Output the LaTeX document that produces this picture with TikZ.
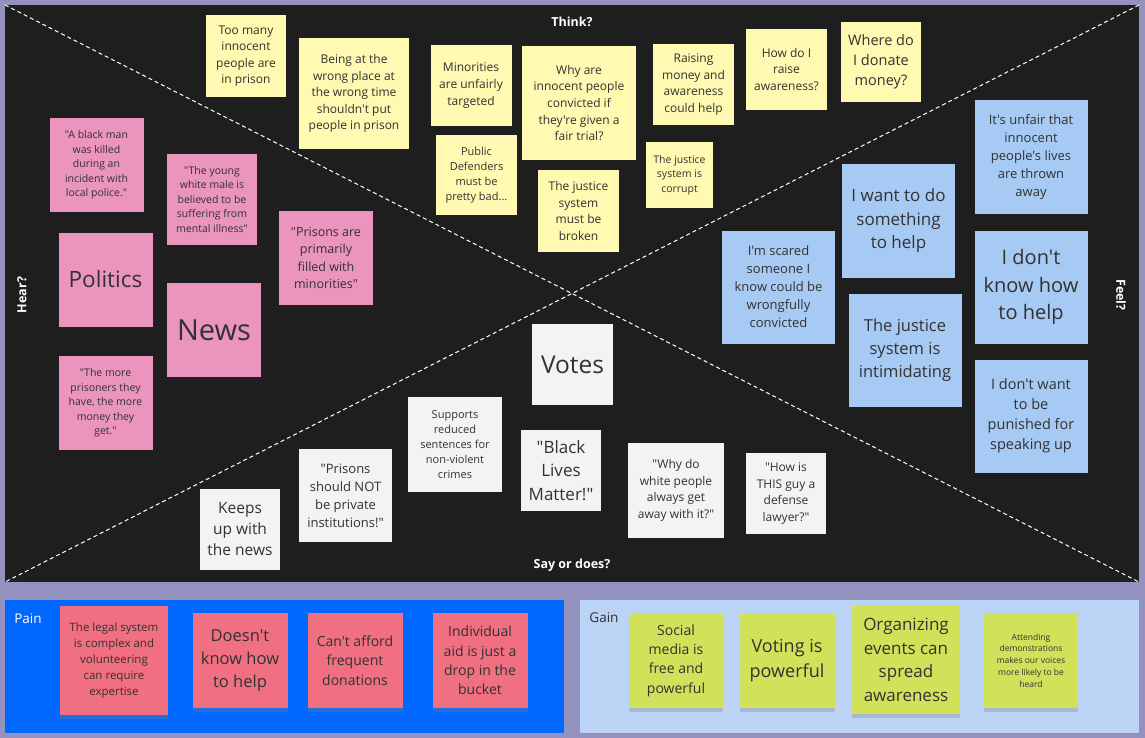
\documentclass[tikz,border=0pt]{standalone}
\usepackage{fontspec}
\setmainfont{Open Sans}
% no TeX mapping here, so quotes and apostrophes stay straight
\newfontfamily\boardfont{Open Sans}
\usetikzlibrary{shadows}

\definecolor{frame}{RGB}{147,146,190}
\definecolor{board}{RGB}{30,30,30}
\definecolor{painbg}{RGB}{0,104,255}
\definecolor{gainbg}{RGB}{187,211,245}
\definecolor{yellowpad}{RGB}{255,249,177}
\definecolor{pinkpad}{RGB}{234,148,190}
\definecolor{bluepad}{RGB}{166,202,243}
\definecolor{whitepad}{RGB}{243,243,243}
\definecolor{redpad}{RGB}{240,111,128}
\definecolor{limepad}{RGB}{207,226,90}
\definecolor{ink}{RGB}{50,50,50}

\begin{document}
\begin{tikzpicture}[x=1pt, y=-1pt]

    \tikzstyle{note} = [rectangle, inner sep=2pt, align=center, text=ink]
    \tikzstyle{txt} = [font=\boardfont\fontsize{#1pt}{\dimexpr #1pt*138/100\relax}\selectfont]
    \tikzstyle{yellownote} = [note, fill=yellowpad, minimum width=81, minimum height=81]
    \tikzstyle{pinknote} = [note, fill=pinkpad, minimum width=94, minimum height=94]
    \tikzstyle{bluenote} = [note, fill=bluepad, minimum width=113, minimum height=113]
    \tikzstyle{whitenote} = [note, fill=whitepad, minimum width=81, minimum height=81]
    \tikzstyle{padshadow} = [drop shadow={shadow xshift=0pt, shadow yshift=-4pt, opacity=0.3}]
    \tikzstyle{painnote} = [note, padshadow, fill=redpad, minimum width=95, minimum height=95]
    \tikzstyle{gainnote} = [note, padshadow, fill=limepad, minimum width=94, minimum height=95]
    \tikzstyle{heading} = [white, font=\boardfont\bfseries\fontsize{12.5}{15}\selectfont]
    \tikzstyle{divider} = [white, line width=1pt, dash pattern=on 4pt off 3pt]

    % Board
    \fill[frame] (0,0) rectangle (1145,738);
    \fill[board] (5,5) rectangle (1139,582);
    \fill[painbg] (5,600) rectangle (564,733);
    \fill[gainbg] (580,600) rectangle (1139,733);

    \coordinate (nw) at (5,5);
    \coordinate (ne) at (1139,5);
    \coordinate (sw) at (5,582);
    \coordinate (se) at (1139,582);
    \draw[divider] (nw) -- (se);
    \draw[divider] (ne) -- (sw);

    % Headings
    \node[heading] (think) at (572,22) {Think?};
    \node[heading, rotate=90] (hear) at (22,295) {Hear?};
    \node[heading, rotate=-90] (feel) at (1121,295) {Feel?};
    \node[heading] (say) at (572,565) {Say or does?};
    \node[white, font=\boardfont\fontsize{13.5}{16}\selectfont] (pain) at (28,619) {Pain};
    \node[ink, font=\boardfont\fontsize{13.5}{16}\selectfont] (gain) at (604,618) {Gain};

    % Think
    \node[yellownote, txt=12, minimum width=80, minimum height=82] (think1) at (246,56) {Too many\\innocent\\people are\\in prison};
    \node[yellownote, txt=12, minimum width=110, minimum height=111] (think2) at (354,93.5) {Being at the\\wrong place at\\the wrong time\\shouldn't put\\people in prison};
    \node[yellownote, txt=12] (think3) at (471,85.5) {Minorities\\are unfairly\\targeted};
    \node[yellownote, txt=12, minimum width=114, minimum height=114] (think4) at (579,103) {Why are\\innocent people\\convicted if\\they're given a\\fair trial?};
    \node[yellownote, txt=12] (think5) at (693.5,84.5) {Raising\\money and\\awareness\\could help};
    \node[yellownote, txt=12] (think6) at (786.5,69.5) {How do I\\raise\\awareness?};
    \node[yellownote, txt=14.5, minimum width=80, minimum height=80] (think7) at (881,62) {Where do\\I donate\\money?};
    \node[yellownote, txt=11, minimum height=80] (think8) at (476.5,175) {Public\\Defenders\\must be\\pretty bad...};
    \node[yellownote, txt=12, minimum height=82] (think9) at (578.5,211) {The justice\\system\\must be\\broken};
    \node[yellownote, txt=10.5, minimum width=67, minimum height=66] (think10) at (679.5,175) {The justice\\system is\\corrupt};

    % Hear
    \node[pinknote, txt=10.5] (hear1) at (96.5,165) {"A black man\\was killed\\during an\\incident with\\local police."};
    \node[pinknote, txt=10.5, minimum width=90, minimum height=91] (hear2) at (212,199.5) {"The young\\white male is\\believed to be\\suffering from\\mental illness"};
    \node[pinknote, txt=12.5] (hear3) at (326,258) {"Prisons are\\primarily\\filled with\\minorities"};
    \node[pinknote, txt=22.5] (hear4) at (105.5,279.5) {Politics};
    \node[pinknote, txt=29] (hear5) at (214,330) {News};
    \node[pinknote, txt=10.5] (hear6) at (105.5,403) {"The more\\prisoners they\\have, the more\\money they\\get."};

    % Feel
    \node[bluenote, txt=13] (feel1) at (1031,157) {It's unfair that\\innocent\\people's lives\\are thrown\\away};
    \node[bluenote, txt=17] (feel2) at (898.5,221) {I want to do\\something\\to help};
    \node[bluenote, txt=13] (feel3) at (778.5,287) {I'm scared\\someone I\\know could be\\wrongfully\\convicted};
    \node[bluenote, txt=20] (feel4) at (1031,287) {I don't\\know how\\to help};
    \node[bluenote, txt=16.5] (feel5) at (905,350) {The justice\\system is\\intimidating};
    \node[bluenote, txt=14.5] (feel6) at (1031,416) {I don't want\\to be\\punished for\\speaking up};

    % Say or does
    \node[whitenote, txt=24.5] (say1) at (572.5,364.5) {Votes};
    \node[whitenote, txt=11, minimum width=94, minimum height=95] (say2) at (455,444.5) {Supports\\reduced\\sentences for\\non-violent\\crimes};
    \node[whitenote, txt=15.5, minimum width=80] (say3) at (240,529) {Keeps\\up with\\the news};
    \node[whitenote, txt=13, minimum width=93, minimum height=93] (say4) at (345.5,495.5) {"Prisons\\should NOT\\be private\\institutions!"};
    \node[whitenote, txt=17, minimum width=80] (say5) at (561,470.5) {"Black\\Lives\\Matter!"};
    \node[whitenote, txt=12, minimum width=96, minimum height=95] (say6) at (676,490.5) {"Why do\\white people\\always get\\away with it?"};
    \node[whitenote, txt=12, minimum width=80] (say7) at (786,493.5) {"How is\\THIS guy a\\defense\\lawyer?"};

    % Pain
    \node[painnote, txt=11.5, minimum width=108, minimum height=109] (pain1) at (114,660.5) {The legal system\\is complex and\\volunteering\\can require\\expertise};
    \node[painnote, txt=16.5] (pain2) at (240,660.5) {Doesn't\\know how\\to help};
    \node[painnote, txt=14] (pain3) at (355,660.5) {Can't afford\\frequent\\donations};
    \node[painnote, txt=14] (pain4) at (480,660.5) {Individual\\aid is just a\\drop in the\\bucket};

    % Gain
    \node[gainnote, txt=14] (gain1) at (676,660.5) {Social\\media is\\free and\\powerful};
    \node[gainnote, txt=18, minimum width=95] (gain2) at (787,660.5) {Voting is\\powerful};
    \node[gainnote, txt=17, minimum width=108, minimum height=108] (gain3) at (906,660) {Organizing\\events can\\spread\\awareness};
    \node[gainnote, txt=8.5] (gain4) at (1031,660.5) {Attending\\demonstrations\\makes our voices\\more likely to be\\heard};

\end{tikzpicture}
\end{document}
